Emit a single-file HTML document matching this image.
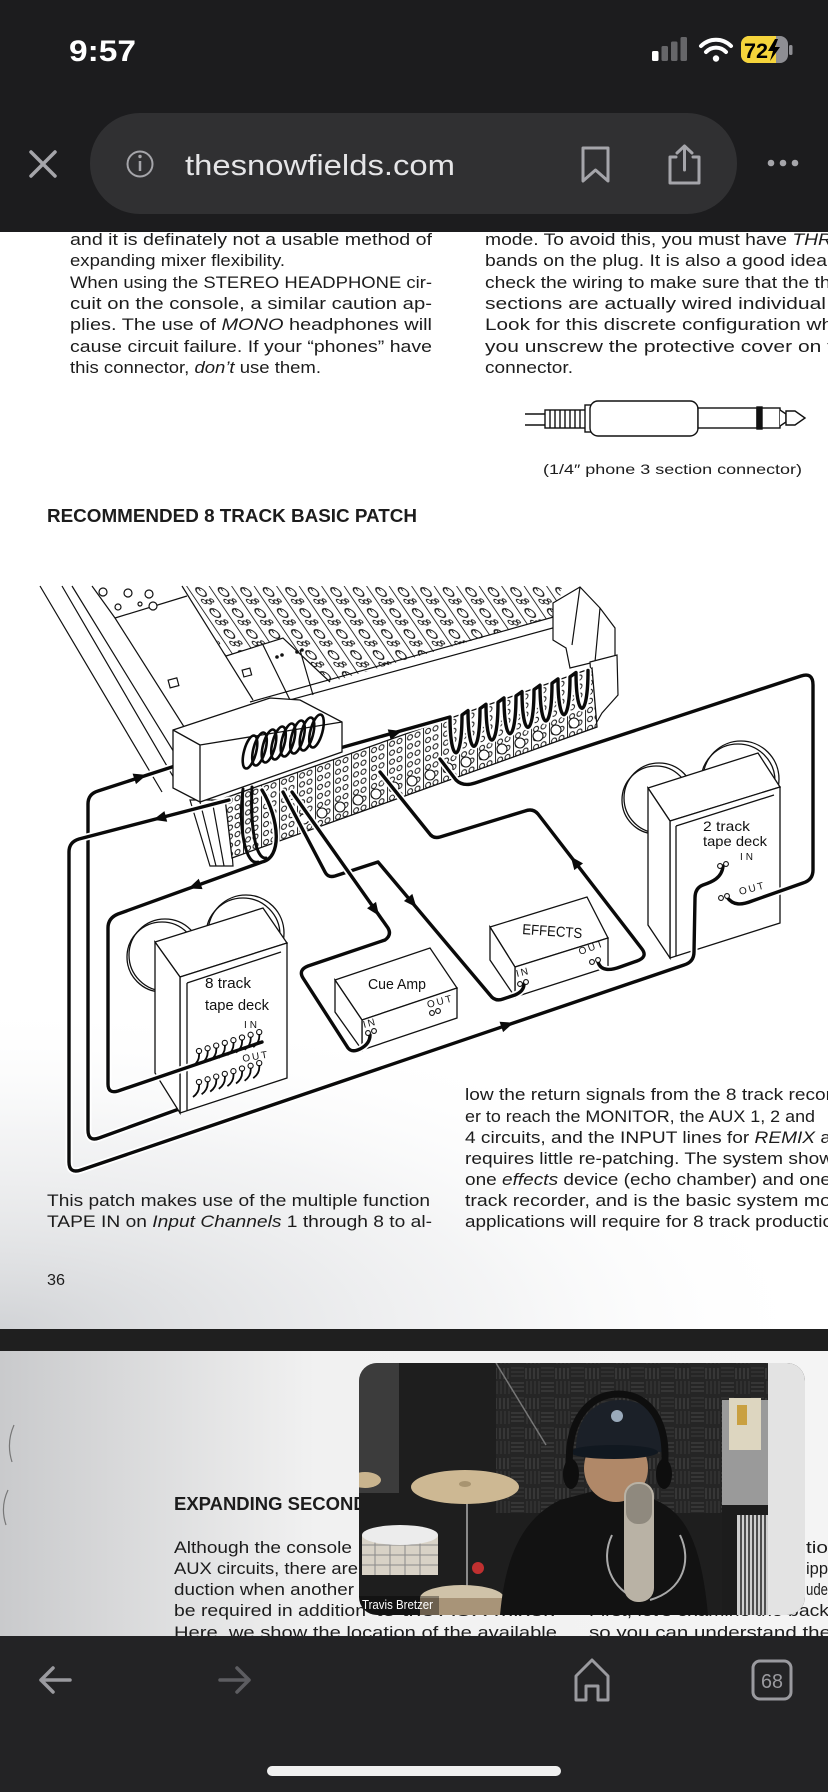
<!DOCTYPE html>
<html><head><meta charset="utf-8"><style>
html,body{margin:0;padding:0;background:#1c1c1e;overflow:hidden;}
svg{display:block;}
.tx{font-family:"Liberation Sans Narrow","Liberation Sans",sans-serif;fill:#1c1c1c;}
.ts{font-family:"Liberation Sans",sans-serif;fill:#111;}
.nar{font-family:"Liberation Sans Narrow","Liberation Sans",sans-serif;}
</style></head><body>
<svg width="828" height="1792" viewBox="0 0 828 1792" xmlns="http://www.w3.org/2000/svg">
<defs>
<pattern id="knobs" width="22.5" height="21" patternUnits="userSpaceOnUse" patternTransform="translate(186,586) skewX(34)">
<rect width="22.5" height="21" fill="#fff"/>
<line x1="0.6" y1="0" x2="0.6" y2="21" stroke="#111" stroke-width="1"/>
<circle cx="11" cy="6" r="4.3" fill="#fff" stroke="#111" stroke-width="1.2"/>
<line x1="11" y1="2" x2="11" y2="5" stroke="#111" stroke-width="1"/>
<circle cx="7.5" cy="15.5" r="2.1" fill="none" stroke="#111" stroke-width="1"/>
<circle cx="12" cy="16" r="2.1" fill="none" stroke="#111" stroke-width="1"/>
<circle cx="16" cy="14.5" r="1.6" fill="none" stroke="#111" stroke-width="1"/>
</pattern>
<pattern id="jacks" width="18" height="9" patternUnits="userSpaceOnUse" patternTransform="translate(225,798) skewY(-19.4)">
<rect width="18" height="9" fill="#fff"/>
<line x1="0.5" y1="0" x2="0.5" y2="9" stroke="#111" stroke-width="0.9"/>
<circle cx="5" cy="4.5" r="2.5" fill="#fff" stroke="#111" stroke-width="1"/>
<circle cx="12.5" cy="4.5" r="2.5" fill="#fff" stroke="#111" stroke-width="1"/>
</pattern>
<pattern id="foam" width="30" height="30" patternUnits="userSpaceOnUse">
<rect width="30" height="30" fill="#252525"/>
<path d="M1,3H14M1,7H14M1,11H14M16,18V29M20,18V29M24,18V29M28,18V29" stroke="#3b3b3b" stroke-width="1.6"/>
<path d="M17,1V14M21,1V14M25,1V14M29,1V14M1,18H14M1,22H14M1,26H14" stroke="#333" stroke-width="1.6"/>
</pattern>
<radialGradient id="shade1" cx="0" cy="1" r="1">
<stop offset="0" stop-color="#cfd1d4" stop-opacity="0.95"/>
<stop offset="0.6" stop-color="#e6e7e9" stop-opacity="0.45"/>
<stop offset="1" stop-color="#ffffff" stop-opacity="0"/>
</radialGradient>
<linearGradient id="shade2" x1="0" y1="0" x2="1" y2="0">
<stop offset="0" stop-color="#c9cacc"/>
<stop offset="0.38" stop-color="#f1f1f1"/>
<stop offset="1" stop-color="#f4f4f4"/>
</linearGradient>
<clipPath id="vclip"><rect x="359" y="1363" width="446" height="252" rx="18"/></clipPath>
<clipPath id="batt"><rect x="741" y="36" width="47" height="27" rx="8"/></clipPath>
<path id="c1" d="M727,897 C733,906 742,905 752,901 L803,883 Q813,880 813,870 L813,685 Q813,672 801,676 L475,783 Q463,787 456,780 L440,759"/>
<path id="c2" d="M723,866 C722,878 712,882 703,885 Q695,888 695,898 L694,952 Q694,962 684,965 L81,1170 Q69,1174 69,1162 L69,852 Q69,842 79,839 L229,800"/>
<path id="c3" d="M262,1079 L99,1138 Q88,1142 88,1130 L88,804 Q88,794 98,791 L175,766 L340,748 L450,717 C450,765 462,765 462,715 L468,710.6 C468,758.6 480,758.6 480,708.6 L486,704.3 C486,752.3 498,752.3 498,702.3 L504,697.9 C504,745.9 516,745.9 516,695.9 L522,691.6 C522,739.6 534,739.6 534,689.6 L540,685.2 C540,733.2 552,733.2 552,683.2 L558,678.9 C558,726.9 570,726.9 570,676.9 L576,672.5 C576,720.5 588,720.5 588,670.5"/>
<path id="c4" d="M262,790 C280,820 282,858 262,862 L118,914 Q108,918 108,928 L108,1084 Q108,1094 118,1091 L262,1042"/>
<path id="c5" d="M292,792 L388,928 Q392,935 385,940 L308,966 Q298,970 303,978 L348,1048 Q352,1053 360,1049 C368,1045 370,1040 370,1035"/>
<path id="c6" d="M283,792 L325,872 Q328,878 335,876 L378,862 L490,995 Q495,1002 503,999 L515,995 C522,992 524,988 524,984"/>
<path id="c7" d="M598,962 C601,972 612,970 620,967 L637,961 Q648,957 642,949 L538,814 Q533,808 525,811 L440,837 Q433,839 429,833 L380,772"/>
<polygon id="arr" points="7,0 -6,-5.5 -6,5.5"/>
</defs>

<!-- status bar -->
<rect x="0" y="0" width="828" height="232" fill="#1c1c1e"/>
<text x="69" y="61" font-family="Liberation Sans" font-weight="bold" font-size="30" fill="#fff" textLength="67" lengthAdjust="spacingAndGlyphs">9:57</text>
<rect x="652" y="51" width="6.5" height="10" rx="1.5" fill="#fff"/>
<rect x="661.5" y="46" width="6.5" height="15" rx="1.5" fill="#666669"/>
<rect x="671" y="41.5" width="6.5" height="19.5" rx="1.5" fill="#666669"/>
<rect x="680.5" y="37" width="6.5" height="24" rx="1.5" fill="#666669"/>
<path d="M701,46 A21,21 0 0 1 731,46" stroke="#fff" stroke-width="4" fill="none" stroke-linecap="round"/>
<path d="M706,52 A13.5,13.5 0 0 1 726,52" stroke="#fff" stroke-width="4" fill="none" stroke-linecap="round"/>
<circle cx="716" cy="58.5" r="3.2" fill="#fff"/>
<rect x="741" y="36" width="47" height="27" rx="8" fill="#8e8e93"/>
<rect x="741" y="36" width="35" height="27" fill="#f5d43b" clip-path="url(#batt)"/>
<rect x="789" y="45" width="3.5" height="10" rx="1.5" fill="#8e8e93"/>
<text x="744" y="58" font-family="Liberation Sans" font-weight="bold" font-size="21" fill="#000" textLength="24" lengthAdjust="spacingAndGlyphs">72</text>
<polygon points="775,39 768,51 773,51 770,61 780,47 775,47 778,39" fill="#000"/>
<rect x="90" y="113" width="647" height="101" rx="50" fill="#303032"/>
<path d="M31,152 L55,176 M55,152 L31,176" stroke="#a5a5aa" stroke-width="3.5" stroke-linecap="round"/>
<circle cx="140" cy="164" r="12.5" stroke="#a5a5aa" stroke-width="2" fill="none"/>
<line x1="140" y1="161" x2="140" y2="171" stroke="#a5a5aa" stroke-width="2.5"/>
<circle cx="140" cy="156.5" r="1.7" fill="#a5a5aa"/>
<text x="185" y="175" font-family="Liberation Sans" font-size="29" fill="#e5e5e7" textLength="270" lengthAdjust="spacingAndGlyphs">thesnowfields.com</text>
<path d="M583,148 H608 V181 L595.5,170 L583,181 Z" stroke="#a5a5aa" stroke-width="3" fill="none" stroke-linejoin="round"/>
<path d="M676,157 H670 V183 H699 V157 H693 M684.5,146 V170 M677,153 L684.5,146 L692,153" stroke="#a5a5aa" stroke-width="3" fill="none" stroke-linejoin="round" stroke-linecap="round"/>
<circle cx="771" cy="163" r="3.3" fill="#a5a5aa"/><circle cx="783" cy="163" r="3.3" fill="#a5a5aa"/><circle cx="795" cy="163" r="3.3" fill="#a5a5aa"/>

<!-- page 1 -->
<rect x="0" y="232" width="828" height="1097" fill="#fff"/>
<rect x="0" y="1000" width="828" height="329" fill="url(#shade1)"/>

<g class="tx" font-size="17">
<text x="70" y="245" textLength="362" lengthAdjust="spacingAndGlyphs">and it is definately not a usable method of</text>
<text x="70" y="266" textLength="215" lengthAdjust="spacingAndGlyphs">expanding mixer flexibility.</text>
<text x="70" y="288" textLength="362" lengthAdjust="spacingAndGlyphs">When using the STEREO HEADPHONE cir-</text>
<text x="70" y="309" textLength="362" lengthAdjust="spacingAndGlyphs">cuit on the console, a similar caution ap-</text>
<text x="70" y="330" textLength="362" lengthAdjust="spacingAndGlyphs">plies. The use of <tspan font-style="italic">MONO</tspan> headphones will</text>
<text x="70" y="352" textLength="362" lengthAdjust="spacingAndGlyphs">cause circuit failure. If your “phones” have</text>
<text x="70" y="373" textLength="251" lengthAdjust="spacingAndGlyphs">this connector, <tspan font-style="italic">don’t</tspan> use them.</text>
<text x="485" y="245" textLength="347" lengthAdjust="spacingAndGlyphs">mode. To avoid this, you must have <tspan font-style="italic">THR</tspan></text>
<text x="485" y="266" textLength="342" lengthAdjust="spacingAndGlyphs">bands on the plug. It is also a good idea</text>
<text x="485" y="288" textLength="352" lengthAdjust="spacingAndGlyphs">check the wiring to make sure that the thr</text>
<text x="485" y="309" textLength="341" lengthAdjust="spacingAndGlyphs">sections are actually wired individual</text>
<text x="485" y="330" textLength="348" lengthAdjust="spacingAndGlyphs">Look for this discrete configuration wh</text>
<text x="485" y="352" textLength="348" lengthAdjust="spacingAndGlyphs">you unscrew the protective cover on t</text>
<text x="485" y="373" textLength="88" lengthAdjust="spacingAndGlyphs">connector.</text>
<text x="543" y="474" font-size="14" textLength="259" lengthAdjust="spacingAndGlyphs">(1/4″ phone 3 section connector)</text>
<text x="47" y="522" font-size="18.5" font-weight="bold" textLength="370" lengthAdjust="spacingAndGlyphs">RECOMMENDED 8 TRACK BASIC PATCH</text>
<text x="47" y="1206" textLength="383" lengthAdjust="spacingAndGlyphs">This patch makes use of the multiple function</text>
<text x="47" y="1227" textLength="385" lengthAdjust="spacingAndGlyphs">TAPE IN on <tspan font-style="italic">Input Channels</tspan> 1 through 8 to al-</text>
<text x="465" y="1100" textLength="367" lengthAdjust="spacingAndGlyphs">low the return signals from the 8 track recor</text>
<text x="465" y="1122" textLength="350" lengthAdjust="spacingAndGlyphs">er to reach the MONITOR, the AUX 1, 2 and</text>
<text x="465" y="1143" textLength="366" lengthAdjust="spacingAndGlyphs">4 circuits, and the INPUT lines for <tspan font-style="italic">REMIX</tspan> a</text>
<text x="465" y="1164" textLength="368" lengthAdjust="spacingAndGlyphs">requires little re-patching. The system show</text>
<text x="465" y="1185" textLength="366" lengthAdjust="spacingAndGlyphs">one <tspan font-style="italic">effects</tspan> device (echo chamber) and one</text>
<text x="465" y="1206" textLength="366" lengthAdjust="spacingAndGlyphs">track recorder, and is the basic system mo</text>
<text x="465" y="1227" textLength="368" lengthAdjust="spacingAndGlyphs">applications will require for 8 track productio</text>
<text x="47" y="1285" font-size="16" textLength="18" lengthAdjust="spacingAndGlyphs">36</text>
</g>

<!-- phone connector -->
<g stroke="#111" stroke-width="1.4" fill="#fff">
<path d="M525,414 H548 M525,425 H548" fill="none"/>
<rect x="545" y="410" width="42" height="18"/>
<path d="M550,410V428 M555,410V428 M560,410V428 M565,410V428 M570,410V428 M575,410V428 M580,410V428" fill="none"/>
<rect x="585" y="405" width="6" height="27"/>
<rect x="590" y="401" width="108" height="35" rx="8"/>
<rect x="698" y="408" width="59" height="20"/>
<rect x="757" y="407" width="5" height="22" fill="#111"/>
<rect x="762" y="408" width="18" height="20"/>
<path d="M780,410 L786,414 V422 L780,426"/>
<path d="M786,411 H795 L805,418 L795,425 H786 Z"/>
</g>

<!-- console -->
<g stroke="#111" stroke-width="1.2" fill="none">
<polygon points="40,586 562,586 557,616 250,702 173,728 40,586" fill="#fff" stroke="none"/>
<polygon points="186,586 562,586 557,616 330,682 283,638 226,656" fill="url(#knobs)" stroke="none"/>
<line x1="182" y1="586" x2="253" y2="700"/>
<path d="M226,656 L283,638 L330,682 M263,645 L290,700 M300,650 L313,695"/>
<path d="M40,586 L162,792 M62,586 L178,785 M72,586 L188,775 M92,586 L115,618 L200,752"/>
<path d="M115,618 L187,596"/>
<g fill="#fff"><circle cx="103" cy="592" r="4"/><circle cx="118" cy="607" r="3"/><circle cx="128" cy="593" r="4"/><circle cx="149" cy="594" r="4"/><circle cx="153" cy="606" r="4"/><circle cx="140" cy="604" r="2"/></g>
<g fill="#111" stroke="none"><circle cx="277" cy="657" r="1.8"/><circle cx="282" cy="655" r="1.8"/><circle cx="297" cy="652" r="1.8"/><circle cx="302" cy="650" r="1.8"/></g>
<rect x="169" y="679" width="9" height="8" fill="#fff" transform="rotate(-15 173 683)"/>
<rect x="243" y="669" width="8" height="7" fill="#fff" transform="rotate(-15 247 673)"/>
<path d="M250,702 L557,616 M246,712 L560,626"/>
<polygon points="553,603 580,587 600,608 615,628 615,657 570,668 566,648 553,640" fill="#fff"/>
<path d="M580,587 L572,645 M600,608 L595,662"/>
<polygon points="590,662 617,655 618,695 602,713 594,727" fill="#fff"/>
<polygon points="190,800 228,800 233,866 210,866" fill="#fff"/>
<path d="M200,802 L216,866 M212,800 L224,866"/>
</g>

<!-- jack strip -->
<polygon points="225,798 592,668 597,727 232,858" fill="url(#jacks)" stroke="#111" stroke-width="1.3"/>
<g fill="#fff" stroke="#111" stroke-width="1.1">
<circle cx="304" cy="819" r="5"/><circle cx="322" cy="813" r="5"/><circle cx="340" cy="807" r="5"/><circle cx="358" cy="800" r="5"/><circle cx="376" cy="794" r="5"/><circle cx="394" cy="787" r="5"/><circle cx="412" cy="781" r="5"/><circle cx="430" cy="775" r="5"/><circle cx="448" cy="768" r="5"/><circle cx="466" cy="762" r="5"/><circle cx="484" cy="755" r="5"/><circle cx="502" cy="749" r="5"/><circle cx="520" cy="743" r="5"/><circle cx="538" cy="736" r="5"/><circle cx="556" cy="730" r="5"/><circle cx="574" cy="723" r="5"/>
</g>

<!-- cable 3 (behind box) -->
<g fill="none" stroke-linejoin="round" stroke-linecap="round">
<use href="#c3" stroke="#fff" stroke-width="7"/>
<use href="#c3" stroke="#0a0a0a" stroke-width="3.4"/>
</g>

<!-- raised box -->
<g stroke="#111" stroke-width="1.3" fill="#fff">
<polygon points="173,730 270,698 300,700 342,722 342,752 200,802 173,788"/>
<path d="M200,745 L342,722 M200,745 L200,802 M173,730 L200,745" fill="none"/>
</g>
<g fill="none" stroke="#0a0a0a" stroke-width="2.6">
<ellipse cx="250" cy="752" rx="6" ry="17" transform="rotate(15 250 752)"/>
<ellipse cx="259.5" cy="749" rx="6" ry="17" transform="rotate(15 259.5 749)"/>
<ellipse cx="269" cy="746" rx="6" ry="17" transform="rotate(15 269 746)"/>
<ellipse cx="278.5" cy="743" rx="6" ry="17" transform="rotate(15 278.5 743)"/>
<ellipse cx="288" cy="740" rx="6" ry="17" transform="rotate(15 288 740)"/>
<ellipse cx="297.5" cy="737" rx="6" ry="17" transform="rotate(15 297.5 737)"/>
<ellipse cx="307" cy="734" rx="6" ry="17" transform="rotate(15 307 734)"/>
<ellipse cx="316.5" cy="731" rx="6" ry="17" transform="rotate(15 316.5 731)"/>
</g>

<!-- 8 track deck -->
<g stroke="#111" stroke-width="1.3" fill="#fff">
<circle cx="246" cy="933" r="38"/><circle cx="243" cy="935" r="37" fill="none"/>
<circle cx="165" cy="955" r="36"/><circle cx="162" cy="957" r="35" fill="none"/>
<polygon points="155,942 263,908 287,943 180,977"/>
<polygon points="180,977 287,943 287,1078 180,1113"/>
<polygon points="155,942 180,977 180,1113 155,1073"/>
<path d="M187,983 L281,952 M187,983 L187,1111" fill="none"/>
</g>
<!-- cue amp -->
<g stroke="#111" stroke-width="1.3" fill="#fff">
<polygon points="335,980 430,948 457,988 362,1020"/>
<polygon points="362,1020 457,988 457,1018 362,1050"/>
<polygon points="335,980 362,1020 362,1050 335,1012"/>
</g>
<!-- effects -->
<g stroke="#111" stroke-width="1.3" fill="#fff">
<polygon points="490,927 587,897 608,938 515,967"/>
<polygon points="515,967 608,938 608,967 515,997"/>
<polygon points="490,927 515,967 515,997 490,960"/>
</g>
<!-- 2 track deck -->
<g stroke="#111" stroke-width="1.3" fill="#fff">
<circle cx="741" cy="779" r="38"/><circle cx="738" cy="781" r="37" fill="none"/>
<circle cx="659" cy="798" r="35"/><circle cx="656" cy="800" r="34" fill="none"/>
<polygon points="648,788 758,753 780,787 670,821"/>
<polygon points="670,821 780,787 780,923 670,958"/>
<polygon points="648,788 670,821 670,958 648,925"/>
<path d="M676,826 L774,795 M676,826 L676,956" fill="none"/>
</g>

<!-- cables -->
<g fill="none" stroke-linejoin="round" stroke-linecap="round">
<use href="#c1" stroke="#fff" stroke-width="7"/><use href="#c1" stroke="#0a0a0a" stroke-width="3.4"/>
<use href="#c2" stroke="#fff" stroke-width="7"/><use href="#c2" stroke="#0a0a0a" stroke-width="3.4"/>
<use href="#c4" stroke="#fff" stroke-width="7"/><use href="#c4" stroke="#0a0a0a" stroke-width="3.4"/>
<use href="#c6" stroke="#fff" stroke-width="7"/><use href="#c6" stroke="#0a0a0a" stroke-width="3.4"/>
<use href="#c5" stroke="#fff" stroke-width="7"/><use href="#c5" stroke="#0a0a0a" stroke-width="3.4"/>
<use href="#c7" stroke="#fff" stroke-width="7"/><use href="#c7" stroke="#0a0a0a" stroke-width="3.4"/>
<path d="M243,789 C238,830 246,866 258,862 M252,787 C250,828 256,860 266,858" stroke="#0a0a0a" stroke-width="3"/>
</g>
<g fill="#0a0a0a">
<use href="#arr" transform="translate(160,818) rotate(165.4)"/>
<use href="#arr" transform="translate(507,1025) rotate(-18.8)"/>
<use href="#arr" transform="translate(140,777) rotate(-18)"/>
<use href="#arr" transform="translate(395,733) rotate(-15.7)"/>
<use href="#arr" transform="translate(195,886) rotate(160.1)"/>
<use href="#arr" transform="translate(375,910) rotate(54.8)"/>
<use href="#arr" transform="translate(412,902) rotate(49.9)"/>
<use href="#arr" transform="translate(575,862) rotate(-127.6)"/>
</g>

<!-- deck jacks -->
<g fill="#fff" stroke="#111" stroke-width="1.1">
<circle cx="199" cy="1051" r="2.6"/><circle cx="207.6" cy="1048.3" r="2.6"/><circle cx="216.2" cy="1045.6" r="2.6"/><circle cx="224.8" cy="1042.9" r="2.6"/><circle cx="233.4" cy="1040.2" r="2.6"/><circle cx="242" cy="1037.5" r="2.6"/><circle cx="250.6" cy="1034.8" r="2.6"/><circle cx="259.2" cy="1032.1" r="2.6"/>
<circle cx="199" cy="1082" r="2.6"/><circle cx="207.6" cy="1079.3" r="2.6"/><circle cx="216.2" cy="1076.6" r="2.6"/><circle cx="224.8" cy="1073.9" r="2.6"/><circle cx="233.4" cy="1071.2" r="2.6"/><circle cx="242" cy="1068.5" r="2.6"/><circle cx="250.6" cy="1065.8" r="2.6"/><circle cx="259.2" cy="1063.1" r="2.6"/>
<circle cx="368" cy="1033" r="2.4"/><circle cx="374" cy="1031" r="2.4"/><circle cx="432" cy="1013" r="2.4"/><circle cx="438" cy="1011" r="2.4"/>
<circle cx="520" cy="984" r="2.4"/><circle cx="526" cy="982" r="2.4"/><circle cx="592" cy="962" r="2.4"/><circle cx="598" cy="960" r="2.4"/>
<circle cx="720" cy="866" r="2.4"/><circle cx="726" cy="864" r="2.4"/><circle cx="721" cy="898" r="2.4"/><circle cx="727" cy="896" r="2.4"/>
</g>
<g fill="none" stroke="#0a0a0a" stroke-width="1.8">
<path d="M199,1053 q1,8 -6,13 M207.6,1050.3 q1,8 -6,13 M216.2,1047.6 q1,8 -6,13 M224.8,1044.9 q1,8 -6,13 M233.4,1042.2 q1,8 -6,13 M242,1039.5 q1,8 -6,13 M250.6,1036.8 q1,8 -6,13 M259.2,1034.1 q1,8 -6,13"/>
<path d="M199,1084 q1,8 -6,13 M207.6,1081.3 q1,8 -6,13 M216.2,1078.6 q1,8 -6,13 M224.8,1075.9 q1,8 -6,13 M233.4,1073.2 q1,8 -6,13 M242,1070.5 q1,8 -6,13 M250.6,1067.8 q1,8 -6,13 M259.2,1065.1 q1,8 -6,13"/>
</g>

<!-- deck labels -->
<g class="ts">
<text x="205" y="988" font-size="15" textLength="46" lengthAdjust="spacingAndGlyphs">8 track</text>
<text x="205" y="1010" font-size="15" textLength="64" lengthAdjust="spacingAndGlyphs">tape deck</text>
<text x="244" y="1028" font-size="10" letter-spacing="3">IN</text>
<text x="243" y="1062" font-size="10" letter-spacing="2" transform="rotate(-10 243 1062)">OUT</text>
<text x="368" y="989" font-size="15" textLength="58" lengthAdjust="spacingAndGlyphs">Cue Amp</text>
<text x="364" y="1028" font-size="10" letter-spacing="2" transform="rotate(-15 364 1028)">IN</text>
<text x="428" y="1008" font-size="10" letter-spacing="2" transform="rotate(-15 428 1008)">OUT</text>
<text x="522" y="934" font-size="14.5" textLength="60" lengthAdjust="spacingAndGlyphs" transform="rotate(4 522 934)">EFFECTS</text>
<text x="517" y="977" font-size="10" letter-spacing="2" transform="rotate(-14 517 977)">IN</text>
<text x="580" y="955" font-size="10" letter-spacing="2" transform="rotate(-20 580 955)">OUT</text>
<text x="703" y="831" font-size="14" textLength="47" lengthAdjust="spacingAndGlyphs">2 track</text>
<text x="703" y="846" font-size="14" textLength="64" lengthAdjust="spacingAndGlyphs">tape deck</text>
<text x="740" y="860" font-size="10" letter-spacing="3">IN</text>
<text x="740" y="895" font-size="10" letter-spacing="2" transform="rotate(-15 740 895)">OUT</text>
</g>

<!-- page break band -->
<rect x="0" y="1329" width="828" height="22" fill="#1f1f1f"/>

<!-- page 2 -->
<rect x="0" y="1351" width="828" height="285" fill="url(#shade2)"/>
<path d="M14,1425 Q6,1443 12,1462 M8,1490 Q0,1507 6,1525" stroke="#777" stroke-width="1.2" fill="none"/>
<g class="tx" font-size="17">
<text x="174" y="1510" font-size="18.5" font-weight="bold" textLength="231" lengthAdjust="spacingAndGlyphs">EXPANDING SECONDARY</text>
<text x="174" y="1553" textLength="178" lengthAdjust="spacingAndGlyphs">Although the console</text>
<text x="174" y="1574" textLength="184" lengthAdjust="spacingAndGlyphs">AUX circuits, there are</text>
<text x="174" y="1595" textLength="180" lengthAdjust="spacingAndGlyphs">duction when another</text>
<text x="174" y="1616" textLength="192" lengthAdjust="spacingAndGlyphs">be required in addition</text>
<text x="376" y="1616" textLength="180" lengthAdjust="spacingAndGlyphs">to the AUX mixer.</text>
<text x="174" y="1638" textLength="383" lengthAdjust="spacingAndGlyphs">Here, we show the location of the available</text>
<text x="806" y="1553" textLength="22" lengthAdjust="spacingAndGlyphs">tio</text>
<text x="806" y="1574" textLength="22" lengthAdjust="spacingAndGlyphs">ipp</text>
<text x="806" y="1595" textLength="22" lengthAdjust="spacingAndGlyphs">ude</text>
<text x="589" y="1616" textLength="240" lengthAdjust="spacingAndGlyphs">First, let’s examine the back</text>
<text x="589" y="1638" textLength="242" lengthAdjust="spacingAndGlyphs">so you can understand the</text>
</g>

<!-- video overlay -->
<g clip-path="url(#vclip)">
<rect x="359" y="1363" width="446" height="252" fill="#1e1e1e"/>
<rect x="359" y="1363" width="40" height="130" fill="#555" opacity=".55"/>
<rect x="496" y="1363" width="272" height="150" fill="url(#foam)"/>
<rect x="722" y="1400" width="46" height="108" fill="#9a9a9a"/>
<rect x="729" y="1398" width="32" height="52" fill="#ddd6c0"/>
<rect x="737" y="1405" width="10" height="20" fill="#c9a040"/>
<rect x="768" y="1363" width="37" height="252" fill="#e3e3e3"/>
<rect x="722" y="1505" width="46" height="110" fill="#1c1c1c"/>
<rect x="737" y="1515" width="31" height="100" fill="#cfcfcf"/>
<path d="M741,1515V1615 M745,1515V1615 M749,1515V1615 M753,1515V1615 M757,1515V1615 M761,1515V1615 M765,1515V1615" stroke="#222" stroke-width="1.5"/>
<line x1="496" y1="1363" x2="546" y2="1445" stroke="#777" stroke-width="1.5"/>
<ellipse cx="365" cy="1480" rx="16" ry="8" fill="#c9b48e"/>
<line x1="467" y1="1490" x2="467" y2="1590" stroke="#8a8a8a" stroke-width="2"/>
<ellipse cx="465" cy="1487" rx="54" ry="17" fill="#cdb893"/>
<ellipse cx="465" cy="1484" rx="6" ry="3" fill="#a89470"/>
<rect x="362" y="1535" width="76" height="40" fill="#d8d2c6"/>
<path d="M362,1545H438 M362,1555H438 M362,1565H438 M375,1535V1575 M390,1535V1575 M405,1535V1575 M420,1535V1575" stroke="#8a8a8a" stroke-width="1"/>
<ellipse cx="400" cy="1535" rx="38" ry="10" fill="#ececec"/>
<ellipse cx="462" cy="1598" rx="42" ry="13" fill="#cfc2a8"/>
<rect x="420" y="1598" width="84" height="20" fill="#a89478"/>
<circle cx="478" cy="1568" r="6" fill="#c03030"/>
<path d="M500,1615 C505,1560 520,1520 560,1500 L598,1490 L640,1495 C680,1505 700,1530 708,1615 Z" fill="#121212"/>
<ellipse cx="616" cy="1468" rx="32" ry="34" fill="#b08868"/>
<path d="M576,1452 C575,1417 595,1400 620,1400 C648,1400 664,1418 662,1452 Z" fill="#1b2028"/>
<ellipse cx="614" cy="1452" rx="44" ry="7" fill="#111820"/>
<circle cx="617" cy="1416" r="6" fill="#9aaabb"/>
<path d="M570,1472 C565,1420 590,1394 618,1394 C648,1394 670,1420 664,1472" stroke="#0e0e0e" stroke-width="7" fill="none"/>
<ellipse cx="571" cy="1474" rx="8" ry="15" fill="#0e0e0e"/>
<ellipse cx="664" cy="1474" rx="8" ry="15" fill="#0e0e0e"/>
<path d="M612,1535 C600,1560 610,1590 640,1600 M680,1535 C692,1560 684,1590 650,1600" stroke="#aaa" stroke-width="2" fill="none"/>
<rect x="624" y="1482" width="30" height="120" rx="14" fill="#b9b2a5"/>
<rect x="626" y="1484" width="26" height="40" rx="12" fill="#8f897e"/>
<rect x="359" y="1596" width="80" height="19" fill="#000" opacity=".35"/>
<text class="nar" x="362" y="1609" font-size="12.5" fill="#fff" textLength="71" lengthAdjust="spacingAndGlyphs">Travis Bretzer</text>
</g>

<!-- bottom toolbar -->
<rect x="0" y="1636" width="828" height="156" fill="#232325"/>
<path d="M70,1680 H41 M53,1668 L41,1680 L53,1692" stroke="#9a9a9f" stroke-width="3.5" fill="none" stroke-linecap="round" stroke-linejoin="round"/>
<path d="M220,1680 H249 M237,1668 L249,1680 L237,1692" stroke="#5d5d61" stroke-width="3.5" fill="none" stroke-linecap="round" stroke-linejoin="round"/>
<path d="M576,1700 V1676 L592,1660 L608,1676 V1700 H598 V1686 H586 V1700 Z" stroke="#9a9a9f" stroke-width="3" fill="none" stroke-linejoin="round"/>
<rect x="753" y="1661" width="38" height="38" rx="7" stroke="#9a9a9f" stroke-width="3" fill="none"/>
<text class="nar" x="761" y="1688" font-size="20" fill="#9a9a9f" textLength="22" lengthAdjust="spacingAndGlyphs">68</text>
<rect x="267" y="1766" width="294" height="10" rx="5" fill="#f0f0f0"/>
</svg>
</body></html>
